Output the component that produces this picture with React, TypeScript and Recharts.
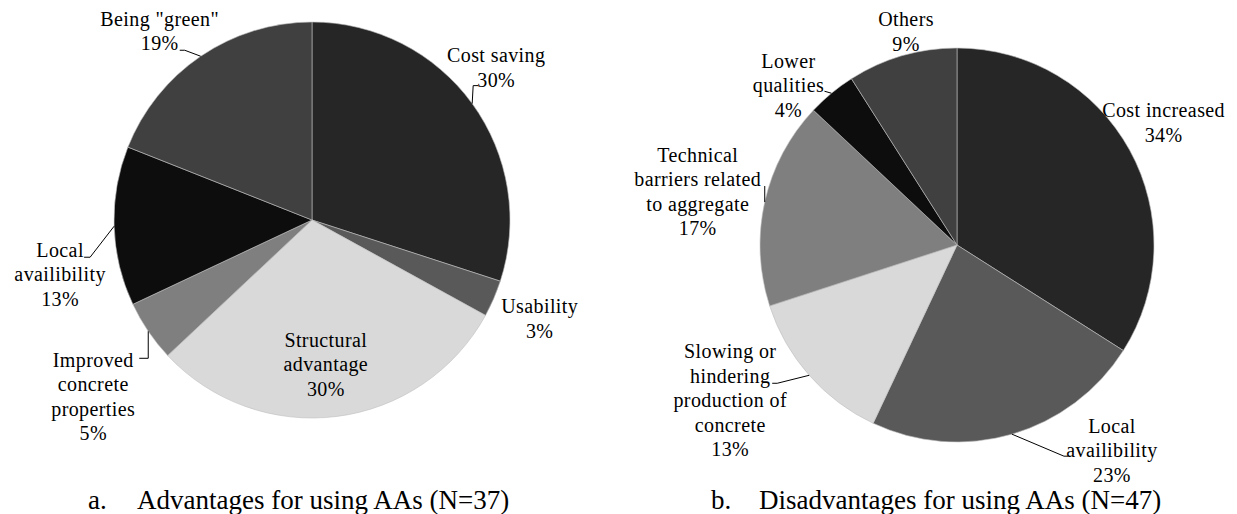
import React from 'react';
import { PieChart, Pie, Cell } from 'recharts';

// Advantages (N=37)
const ADV_NAMES = ['Cost saving', 'Usability', 'Structural\nadvantage', 'Improved\nconcrete\nproperties', 'Local\navailibility', 'Being "green"'];
const ADV_VALUES = [30, 3, 30, 5, 13, 19];

// Disadvantages (N=47)
const DIS_NAMES = ['Cost increased', 'Local\navailibility', 'Slowing or\nhindering\nproduction of\nconcrete', 'Technical\nbarriers related\nto aggregate', 'Lower\nqualities', 'Others'];
const DIS_VALUES = [34, 23, 13, 17, 4, 9];

const ADV_COLORS = ['#262626', '#595959', '#d9d9d9', '#7f7f7f', '#0d0d0d', '#404040'];
const DIS_COLORS = ['#262626', '#595959', '#d9d9d9', '#7f7f7f', '#0d0d0d', '#404040'];

// label block offset from the slice's outer edge, plus leader line points (same origin)
type LabelPos = { dx: number; dy: number; line?: [number, number][] };

const ADV_LABELS: LabelPos[] = [
  { dx: 24, dy: -36, line: [[1, -18], [6, -18]] },
  { dx: 46, dy: 20 },
  { dx: -11, dy: -52 },
  { dx: -55, dy: 65, line: [[0, 27], [-9, 27]] },
  { dx: -54, dy: 48, line: [[-24, 31], [-30, 31]] },
  { dx: -41, dy: -25, line: [[-16, -6], [-21, -6]] },
];

const DIS_LABELS: LabelPos[] = [
  { dx: 34, dy: -27.5 },
  { dx: 100, dy: 16, line: [[52, 22], [56, 22]] },
  { dx: -79, dy: 25, line: [[-32, 8], [-37, 8]] },
  { dx: -67, dy: -10.5, line: [[0, -16]] },
  { dx: -43, dy: -8, line: [[-7, -2]] },
  { dx: 4, dy: -24.5 },
];

const SERIF = 'Liberation Serif';
const FONT = "'Liberation Serif', 'Times New Roman', serif";
const LABEL_SIZE = 20;
const LINE_H = 24.5;
const RAD = Math.PI / 180;

const advData = ADV_NAMES.map((name, i) => ({ name, value: ADV_VALUES[i] }));
const disData = DIS_NAMES.map((name, i) => ({ name, value: DIS_VALUES[i] }));

const edgePoint = (props: any) => {
  const { cx, cy, midAngle, outerRadius } = props;
  return [cx + outerRadius * Math.cos(-midAngle * RAD), cy + outerRadius * Math.sin(-midAngle * RAD)];
};

function makeLabel(layout: LabelPos[]) {
  return (props: any) => {
    const { index, name, value } = props;
    const [ex, ey] = edgePoint(props);
    const pos = layout[index];
    const lines = [...String(name).split('\n'), `${value}%`];
    const tx = ex + pos.dx;
    const ty = ey + pos.dy;
    return (
      <text
        key={`lbl-${index}`}
        x={tx}
        y={ty}
        textAnchor="middle"
        fontFamily={SERIF}
        fontSize={LABEL_SIZE}
        letterSpacing={0.4}
        fill="#000"
      >
        {lines.map((l, i) => (
          <tspan key={i} x={tx} y={ty + (i - (lines.length - 1) / 2) * LINE_H + 7}>
            {l}
          </tspan>
        ))}
      </text>
    );
  };
}

function makeLine(layout: LabelPos[]) {
  return (props: any) => {
    const { index } = props;
    const pos = layout[index];
    if (!pos || !pos.line) return <g key={`ll-${index}`} />;
    const [ex, ey] = edgePoint(props);
    const pts = [[0, 0], ...pos.line].map(([x, y]) => `${ex + x},${ey + y}`).join(' ');
    return <polyline key={`ll-${index}`} points={pts} fill="none" stroke="#000" strokeWidth={1} />;
  };
}

const captionStyle: React.CSSProperties = {
  position: 'absolute',
  fontFamily: FONT,
  fontSize: 27,
  color: '#000',
  whiteSpace: 'pre',
  lineHeight: '26px',
};

export default function App() {
  return (
    <div style={{ position: 'absolute', left: 0, top: 0, width: 1237, height: 514, background: '#fff' }}>
      <PieChart width={1237} height={514} margin={{ top: 0, right: 0, bottom: 0, left: 0 }}>
        <Pie
          data={advData}
          dataKey="value"
          nameKey="name"
          cx={312}
          cy={220}
          outerRadius={198}
          startAngle={90}
          endAngle={-270}
          stroke="#bfbfbf"
          strokeWidth={0.6}
          labelLine={makeLine(ADV_LABELS)}
          label={makeLabel(ADV_LABELS)}
          isAnimationActive={false}
        >
          {advData.map((d, i) => (
            <Cell key={`a-${i}`} fill={ADV_COLORS[i]} />
          ))}
        </Pie>
        <Pie
          data={disData}
          dataKey="value"
          nameKey="name"
          cx={957}
          cy={245}
          outerRadius={197}
          startAngle={90}
          endAngle={-270}
          stroke="#bfbfbf"
          strokeWidth={0.6}
          labelLine={makeLine(DIS_LABELS)}
          label={makeLabel(DIS_LABELS)}
          isAnimationActive={false}
        >
          {disData.map((d, i) => (
            <Cell key={`d-${i}`} fill={DIS_COLORS[i]} />
          ))}
        </Pie>
      </PieChart>
      <div style={{ ...captionStyle, left: 88, top: 487 }}>a.</div>
      <div style={{ ...captionStyle, left: 137, top: 487 }}>Advantages for using AAs (N=37)</div>
      <div style={{ ...captionStyle, left: 711, top: 487 }}>b.</div>
      <div style={{ ...captionStyle, left: 759, top: 487 }}>Disadvantages for using AAs (N=47)</div>
    </div>
  );
}
